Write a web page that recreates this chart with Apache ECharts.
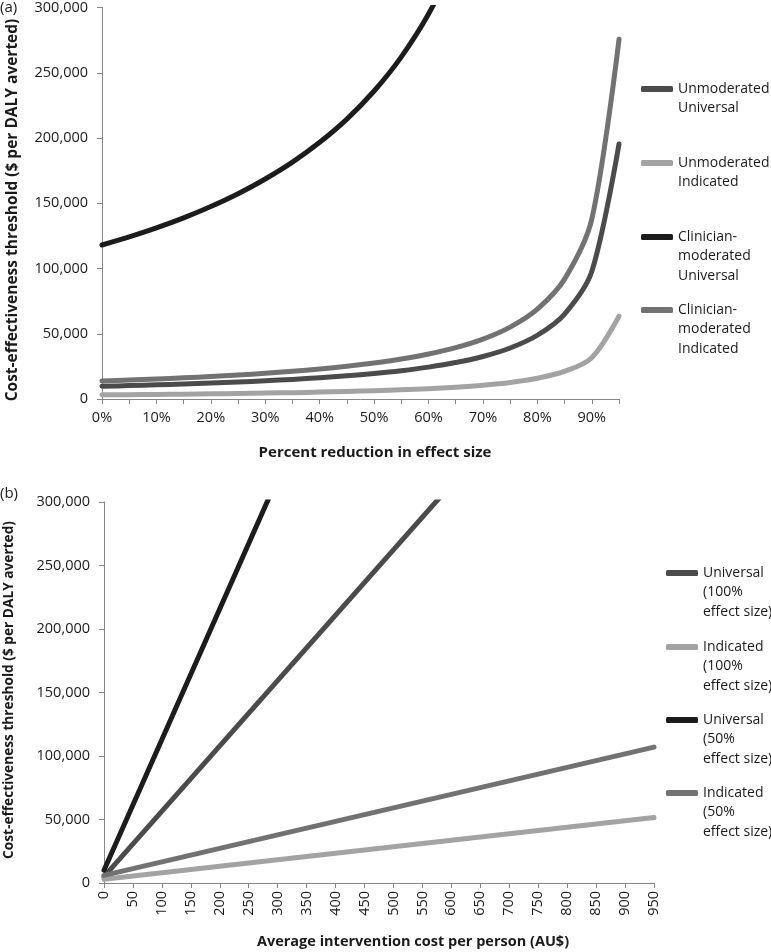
<!DOCTYPE html>
<html>
<head>
<meta charset="utf-8">
<script src="https://cdn.jsdelivr.net/npm/echarts@6/dist/echarts.min.js"></script>
<style>
html,body{margin:0;padding:0;background:#fff;}
#c{width:771px;height:952px;}
</style>
</head>
<body>
<div id="c"></div>
<script>
// ---------- Panel (a) data ----------
const catsA = ['0%','5%','10%','15%','20%','25%','30%','35%','40%','45%','50%','55%','60%','65%','70%','75%','80%','85%','90%','95%'];
const unmodUniversal = [9770,10280,10860,11490,12210,13030,13960,15030,16280,17760,19540,21710,24430,27910,32570,39080,48850,65130,97700,195400];
const unmodIndicated = [3170,3340,3520,3730,3960,4230,4530,4880,5280,5760,6340,7040,7930,9060,10570,12680,15850,21130,31700,63400];
const clinUniversal = [118000,124200,131100,138800,147500,157300,168600,181500,196700,214500,236000,262200,295000,337100];
const clinIndicated = [13780,14510,15310,16210,17230,18370,19690,21200,22970,25050,27560,30620,34450,39370,45930,55120,68900,91870,137800,275600];

// ---------- Panel (b) data ----------
const costTicks = [0,50,100,150,200,250,300,350,400,450,500,550,600,650,700,750,800,850,900,950];
const univ100 = [[0,5000],[950,494000]];
const ind100 = [[0,3000],[950,51500]];
const univ50 = [[0,10000],[950,988000]];
const ind50 = [[0,6000],[950,107000]];

const yTicks = [0,50000,100000,150000,200000,250000,300000];

const namesA = ['Unmoderated\nUniversal','Unmoderated\nIndicated','Clinician-\nmoderated\nUniversal','Clinician-\nmoderated\nIndicated'];
const namesB = ['Universal\n(100%\neffect size)','Indicated\n(100%\neffect size)','Universal\n(50%\neffect size)','Indicated\n(50%\neffect size)'];

const FONT = '"Open Sans", sans-serif';
const AXIS_COLOR = '#868686';
const TXT = '#1a1a1a';
const C_DARK = '#4b4b4b', C_LIGHT = '#a3a3a3', C_BLACK = '#1c1c1c', C_MID = '#727272';

const chart = echarts.init(document.getElementById('c'), null, {renderer:'canvas'});

function yAxisCfg(gi){
  return {
    type:'value', gridIndex:gi, min:yTicks[0], max:yTicks[yTicks.length-1], interval:50000,
    axisLine:{show:true, lineStyle:{color:AXIS_COLOR, width:1}},
    axisTick:{show:true, inside:false, length:5, lineStyle:{color:AXIS_COLOR}},
    splitLine:{show:false},
    axisLabel:{color:TXT, fontFamily:FONT, fontSize:14.5, margin:14,
      formatter:v=>v.toLocaleString('en-US')}
  };
}

const LH = 19.5;
function legendItem(name, color, iconY, left){
  const n = name.split('\n').length;
  const k = 2*n-1;
  return {
    show:true, data:[name], orient:'vertical', left:left, top: iconY - k*LH/2,
    padding:0, icon:'roundRect', itemWidth:32, itemHeight:6, selectedMode:false,
    formatter: nm => '\n'.repeat(n-1) + nm,
    textStyle:{color:TXT, fontFamily:FONT, fontSize:14, lineHeight:LH}
  };
}

function lineSeries(name, data, color, xi, yi, smooth){
  return {
    type:'line', name:name, data:data, xAxisIndex:xi, yAxisIndex:yi,
    showSymbol:false, symbol:'none', smooth:smooth, clip:true,
    color:color, lineStyle:{color:color, width:5, cap:'round', join:'round'},
    emphasis:{disabled:true}, animation:false
  };
}

const option = {
  animation:false,
  backgroundColor:'#fff',
  grid:[
    {left:102, top:5, width:517, height:394},
    {left:104, top:502, width:550, height:381}
  ],
  xAxis:[
    {type:'category', gridIndex:0, data:catsA, boundaryGap:false,
     axisLine:{show:true, lineStyle:{color:AXIS_COLOR}},
     axisTick:{show:true, interval:0, length:5, lineStyle:{color:AXIS_COLOR}},
     splitLine:{show:false},
     axisLabel:{interval:1, color:TXT, fontFamily:FONT, fontSize:14.5, margin:11}},
    {type:'value', gridIndex:1, min:costTicks[0], max:costTicks[costTicks.length-1], interval:50,
     axisLine:{show:true, lineStyle:{color:AXIS_COLOR}},
     axisTick:{show:true, length:5, lineStyle:{color:AXIS_COLOR}},
     splitLine:{show:false},
     axisLabel:{rotate:90, color:TXT, fontFamily:FONT, fontSize:14.5, margin:8, showMaxLabel:true}}
  ],
  yAxis:[yAxisCfg(0), yAxisCfg(1)],
  legend:[
    legendItem(namesA[0], C_DARK, 89, 641),
    legendItem(namesA[1], C_LIGHT, 163, 641),
    legendItem(namesA[2], C_BLACK, 237, 641),
    legendItem(namesA[3], C_MID, 310, 641),
    legendItem(namesB[0], C_DARK, 573, 666),
    legendItem(namesB[1], C_LIGHT, 647, 666),
    legendItem(namesB[2], C_BLACK, 720, 666),
    legendItem(namesB[3], C_MID, 793, 666)
  ],
  series:[
    lineSeries(namesA[0], unmodUniversal, C_DARK, 0, 0, 0.3),
    lineSeries(namesA[1], unmodIndicated, C_LIGHT, 0, 0, 0.3),
    lineSeries(namesA[2], clinUniversal, C_BLACK, 0, 0, 0.3),
    lineSeries(namesA[3], clinIndicated, C_MID, 0, 0, 0.3),
    lineSeries(namesB[0], univ100, C_DARK, 1, 1, false),
    lineSeries(namesB[1], ind100, C_LIGHT, 1, 1, false),
    lineSeries(namesB[2], univ50, C_BLACK, 1, 1, false),
    lineSeries(namesB[3], ind50, C_MID, 1, 1, false)
  ],
  graphic:[
    {type:'text', left:0, top:0, style:{text:'(a)', fill:TXT, font:'15px '+FONT}},
    {type:'text', left:0, top:486, style:{text:'(b)', fill:TXT, font:'15px '+FONT}},
    {type:'text', x:13, y:210, rotation:Math.PI/2, style:{text:'Cost-effectiveness threshold ($ per DALY averted)', fill:TXT, font:'bold 15.5px '+FONT, align:'center', verticalAlign:'middle'}},
    {type:'text', x:9, y:690, rotation:Math.PI/2, style:{text:'Cost-effectiveness threshold ($ per DALY averted)', fill:TXT, font:'bold 13.7px '+FONT, align:'center', verticalAlign:'middle'}},
    {type:'text', x:375, y:453, style:{text:'Percent reduction in effect size', fill:TXT, font:'bold 15px '+FONT, align:'center', verticalAlign:'middle'}},
    {type:'text', x:413, y:942, style:{text:'Average intervention cost per person (AU$)', fill:TXT, font:'bold 14.5px '+FONT, align:'center', verticalAlign:'middle'}}
  ]
};
chart.setOption(option);
</script>
</body>
</html>
